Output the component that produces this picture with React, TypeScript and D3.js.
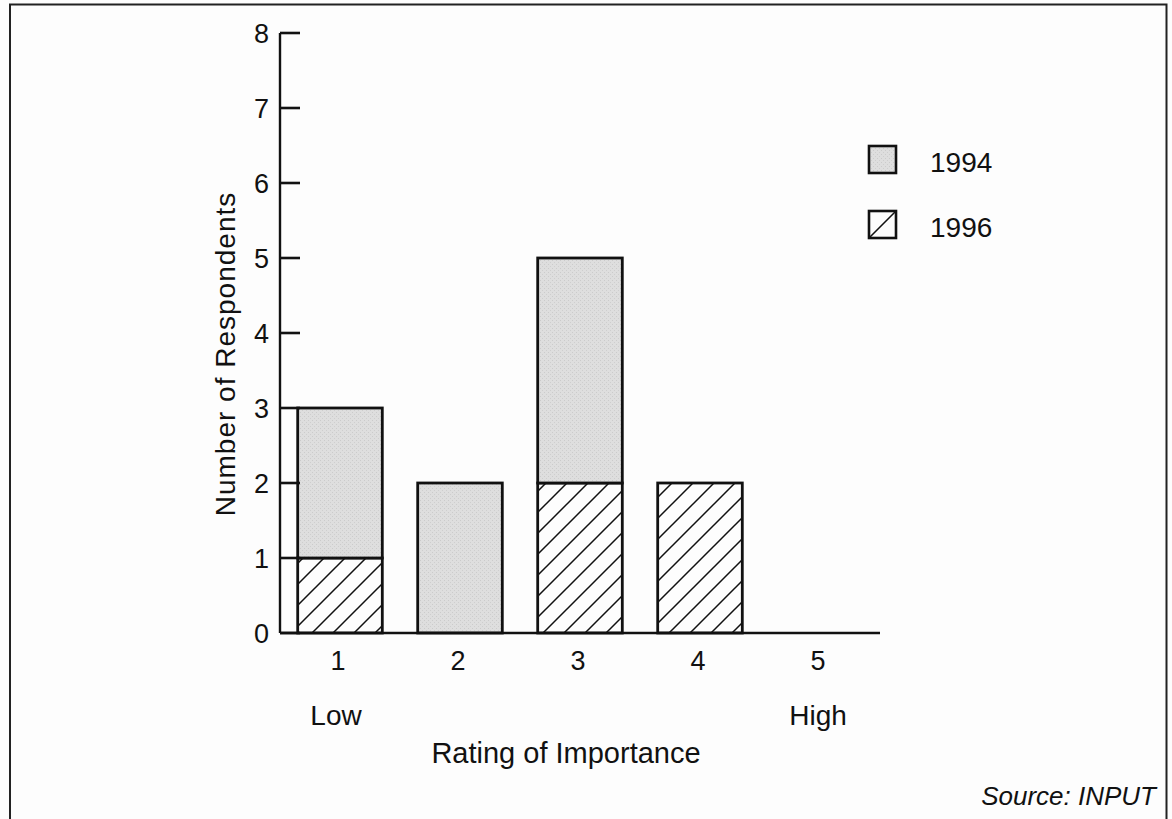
import React from "react";
import * as d3 from "d3";

const categories = ["1", "2", "3", "4", "5"];
const values1994 = [2, 2, 3, 0, 0];
const values1996 = [1, 0, 2, 2, 0];
const yTicks = [0, 1, 2, 3, 4, 5, 6, 7, 8];
const seriesKeys = ["1996", "1994"];
const legendItems = ["1994", "1996"];

const W = 1172;
const H = 819;
const FONT = "'Liberation Sans', Arial, Helvetica, sans-serif";
const FS = 28;

export default function App() {
  const x = d3.scalePoint<string>().domain(categories).range([280, 880]).padding(0.5);
  const y = d3.scaleLinear().domain([0, 8]).range([633, 33]);
  const barW = x.step() * 0.705;

  const rows = categories.map((c, i) => ({ cat: c, "1994": values1994[i], "1996": values1996[i] }));
  const stacked = d3.stack<any>().keys(seriesKeys)(rows);

  const fillFor = (k: string) => (k === "1994" ? "url(#stipple)" : "url(#hatch)");

  return (
    <div style={{ position: "absolute", left: 0, top: 0, margin: 0 }}>
      <svg width={W} height={H} style={{ display: "block", background: "#fdfdfd" }}>
        <defs>
          <pattern id="stipple" patternUnits="userSpaceOnUse" width="4" height="4">
            <rect width="4" height="4" fill="#dedede" />
            <rect x="0" y="0" width="1" height="1" fill="#cbcbcb" />
            <rect x="2" y="2" width="1" height="1" fill="#cecece" />
          </pattern>
          <pattern id="hatch" patternUnits="userSpaceOnUse" width="21" height="21">
            <rect width="21" height="21" fill="#fdfdfd" />
            <path d="M-2,23 L23,-2 M-2,2 L2,-2 M19,23 L23,19" stroke="#111" strokeWidth="1.5" />
          </pattern>
        </defs>

        {/* frame */}
        <path d={`M10,${H} L10,4.5 L1166.5,4.5 L1166.5,${H}`} fill="none" stroke="#222" strokeWidth="2" />

        {/* bars */}
        {stacked.map((s) =>
          s.map((d, i) => {
            const h = y(d[0]) - y(d[1]);
            if (h <= 0) return null;
            const cx = x(categories[i]) as number;
            return (
              <rect
                key={s.key + i}
                x={cx - barW / 2}
                y={y(d[1])}
                width={barW}
                height={h}
                fill={fillFor(s.key)}
                stroke="#111"
                strokeWidth={2.8}
              />
            );
          })
        )}

        {/* y axis */}
        <line x1={280} x2={280} y1={y(8)} y2={y(0)} stroke="#111" strokeWidth={2.4} />
        {yTicks.map((t) => (
          <g key={t}>
            <line x1={280} x2={300} y1={y(t)} y2={y(t)} stroke="#111" strokeWidth={2.6} />
            <text x={269} y={y(t)} dy="0.36em" textAnchor="end" fontFamily={FONT} fontSize={FS - 1} fill="#111">
              {t}
            </text>
          </g>
        ))}

        {/* x axis */}
        <line x1={280} x2={880} y1={y(0)} y2={y(0)} stroke="#111" strokeWidth={2.4} />
        {categories.map((c) => (
          <text key={c} x={(x(c) as number) - 2} y={670} textAnchor="middle" fontFamily={FONT} fontSize={FS - 1} fill="#111">
            {c}
          </text>
        ))}
        <text x={336} y={725} textAnchor="middle" fontFamily={FONT} fontSize={FS} fill="#111">
          Low
        </text>
        <text x={818} y={725} textAnchor="middle" fontFamily={FONT} fontSize={FS} fill="#111">
          High
        </text>
        <text x={566} y={763} textAnchor="middle" fontFamily={FONT} fontSize={FS + 1} fill="#111">
          Rating of Importance
        </text>

        <text
          transform={`translate(235,354) rotate(-90)`}
          textAnchor="middle"
          fontFamily={FONT}
          fontSize={FS}
          letterSpacing={1}
          fill="#111"
        >
          Number of Respondents
        </text>

        {/* legend */}
        {legendItems.map((k, i) => (
          <g key={k} transform={`translate(869,${146 + i * 65})`}>
            <rect x={0} y={0} width={27} height={27} fill={k === "1994" ? "url(#stipple)" : "#fdfdfd"} stroke="#111" strokeWidth={2.6} />
            {k === "1996" && <line x1={0} y1={27} x2={27} y2={0} stroke="#111" strokeWidth={1.6} />}
            <text x={61} y={26} fontFamily={FONT} fontSize={FS} fill="#111">
              {k}
            </text>
          </g>
        ))}

        <text x={1156} y={805} textAnchor="end" fontFamily={FONT} fontSize={26} fontStyle="italic" fill="#111">
          Source: INPUT
        </text>
      </svg>
    </div>
  );
}
